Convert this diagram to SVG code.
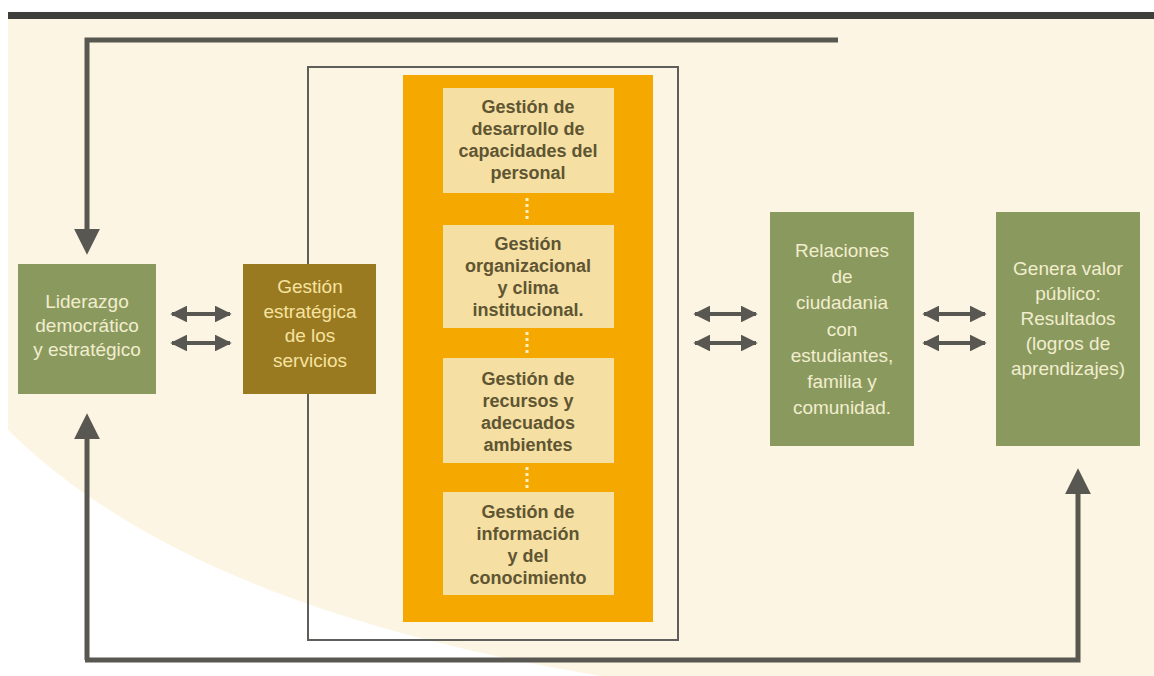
<svg xmlns="http://www.w3.org/2000/svg" width="1154" height="676" viewBox="0 0 1154 676">
  <defs>
    <style>
      .t { font-family: "Liberation Sans Narrow", "Liberation Sans", Arial, sans-serif; text-anchor: middle; }
      .g { fill: #F2EDCF; font-size: 19px; }
      .b { fill: #F6E3A0; font-size: 19px; }
      .i { fill: #5E5533; font-size: 18px; font-weight: bold; }
      .conn { stroke: #585751; stroke-width: 5; fill: none; }
      .dbl { stroke: #585751; stroke-width: 4; fill: none; marker-start: url(#ahS); marker-end: url(#ahE); }
      .dot { stroke: #FFF1C4; stroke-width: 3; stroke-dasharray: 3 3; fill: none; }
    </style>
    <marker id="ahE" viewBox="0 0 10 10" refX="9" refY="5" markerWidth="4.2" markerHeight="4.2" orient="auto" markerUnits="strokeWidth">
      <path d="M0,0 L10,5 L0,10 Z" fill="#585751"/>
    </marker>
    <marker id="ahS" viewBox="0 0 10 10" refX="1" refY="5" markerWidth="4.2" markerHeight="4.2" orient="auto" markerUnits="strokeWidth">
      <path d="M10,0 L0,5 L10,10 Z" fill="#585751"/>
    </marker>
    <marker id="big" viewBox="0 0 10 10" refX="2" refY="5" markerWidth="5.2" markerHeight="5.6" orient="auto" markerUnits="strokeWidth">
      <path d="M0,0 L10,5 L0,10 Z" fill="#585751"/>
    </marker>
  </defs>

  <!-- background -->
  <rect x="0" y="0" width="1154" height="676" fill="#FFFFFF"/>
  <rect x="8" y="18" width="1146" height="658" fill="#FDF5E3"/>
  <path d="M8,430 C120,540 300,625 600,676 L8,676 Z" fill="#FFFFFF"/>
  <rect x="8" y="12" width="1146" height="7" fill="#3E3E3A"/>

  <!-- outer frame -->
  <g id="frame">
    <rect x="308" y="67" width="370" height="573" fill="none" stroke="#5E5E5A" stroke-width="2"/>
  </g>

  <!-- connectors -->
  <g id="connectors">
    <path class="conn" d="M838,40 H87 V234" marker-end="url(#big)"/>
    <path class="conn" d="M87,660 V434" marker-end="url(#big)"/>
    <path class="conn" d="M85,660 H1078 V489" marker-end="url(#big)"/>
    <path class="dbl" d="M172,314 H230"/>
    <path class="dbl" d="M172,343 H230"/>
    <path class="dbl" d="M695,314 H756"/>
    <path class="dbl" d="M695,343 H756"/>
    <path class="dbl" d="M924,314 H985"/>
    <path class="dbl" d="M924,343 H985"/>
  </g>

  <!-- orange container -->
  <g id="container">
    <rect x="403" y="75" width="250" height="547" fill="#F5A800"/>
  </g>

  <g id="inner-connectors">
    <path class="dot" d="M527,198 V220"/>
    <path class="dot" d="M527,332 V354"/>
    <path class="dot" d="M527,467 V488"/>
  </g>

  <g id="n-desarrollo">
    <rect x="443" y="88" width="171" height="105" fill="#F6DFA2"/>
    <text class="t i" x="528" y="113">Gestión de</text>
    <text class="t i" x="528" y="135">desarrollo de</text>
    <text class="t i" x="528" y="157">capacidades del</text>
    <text class="t i" x="528" y="179">personal</text>
  </g>
  <g id="n-organizacional">
    <rect x="443" y="225" width="171" height="103" fill="#F6DFA2"/>
    <text class="t i" x="528" y="250">Gestión</text>
    <text class="t i" x="528" y="272">organizacional</text>
    <text class="t i" x="528" y="294">y clima</text>
    <text class="t i" x="528" y="316">institucional.</text>
  </g>
  <g id="n-recursos">
    <rect x="443" y="358" width="171" height="105" fill="#F6DFA2"/>
    <text class="t i" x="528" y="385">Gestión de</text>
    <text class="t i" x="528" y="407">recursos y</text>
    <text class="t i" x="528" y="429">adecuados</text>
    <text class="t i" x="528" y="451">ambientes</text>
  </g>
  <g id="n-informacion">
    <rect x="443" y="492" width="171" height="103" fill="#F6DFA2"/>
    <text class="t i" x="528" y="518">Gestión de</text>
    <text class="t i" x="528" y="540">información</text>
    <text class="t i" x="528" y="562">y del</text>
    <text class="t i" x="528" y="584">conocimiento</text>
  </g>

  <g id="n-liderazgo">
    <rect x="18" y="264" width="138" height="130" fill="#8A9A5E"/>
    <text class="t g" x="87" y="308">Liderazgo</text>
    <text class="t g" x="87" y="332">democrático</text>
    <text class="t g" x="87" y="356">y estratégico</text>
  </g>

  <g id="n-gestion-estrategica">
    <rect x="243" y="264" width="133" height="130" fill="#9A7A20"/>
    <text class="t b" x="310" y="293">Gestión</text>
    <text class="t b" x="310" y="318">estratégica</text>
    <text class="t b" x="310" y="342">de los</text>
    <text class="t b" x="310" y="367">servicios</text>
  </g>

  <g id="n-relaciones">
    <rect x="770" y="212" width="144" height="234" fill="#8A9A5E"/>
    <text class="t g" x="842" y="257">Relaciones</text>
    <text class="t g" x="842" y="283">de</text>
    <text class="t g" x="842" y="309">ciudadania</text>
    <text class="t g" x="842" y="336">con</text>
    <text class="t g" x="842" y="362">estudiantes,</text>
    <text class="t g" x="842" y="388">familia y</text>
    <text class="t g" x="842" y="414">comunidad.</text>
  </g>

  <g id="n-valor">
    <rect x="996" y="212" width="144" height="234" fill="#8A9A5E"/>
    <text class="t g" x="1068" y="275">Genera valor</text>
    <text class="t g" x="1068" y="300">público:</text>
    <text class="t g" x="1068" y="325">Resultados</text>
    <text class="t g" x="1068" y="350">(logros de</text>
    <text class="t g" x="1068" y="375">aprendizajes)</text>
  </g>
</svg>
